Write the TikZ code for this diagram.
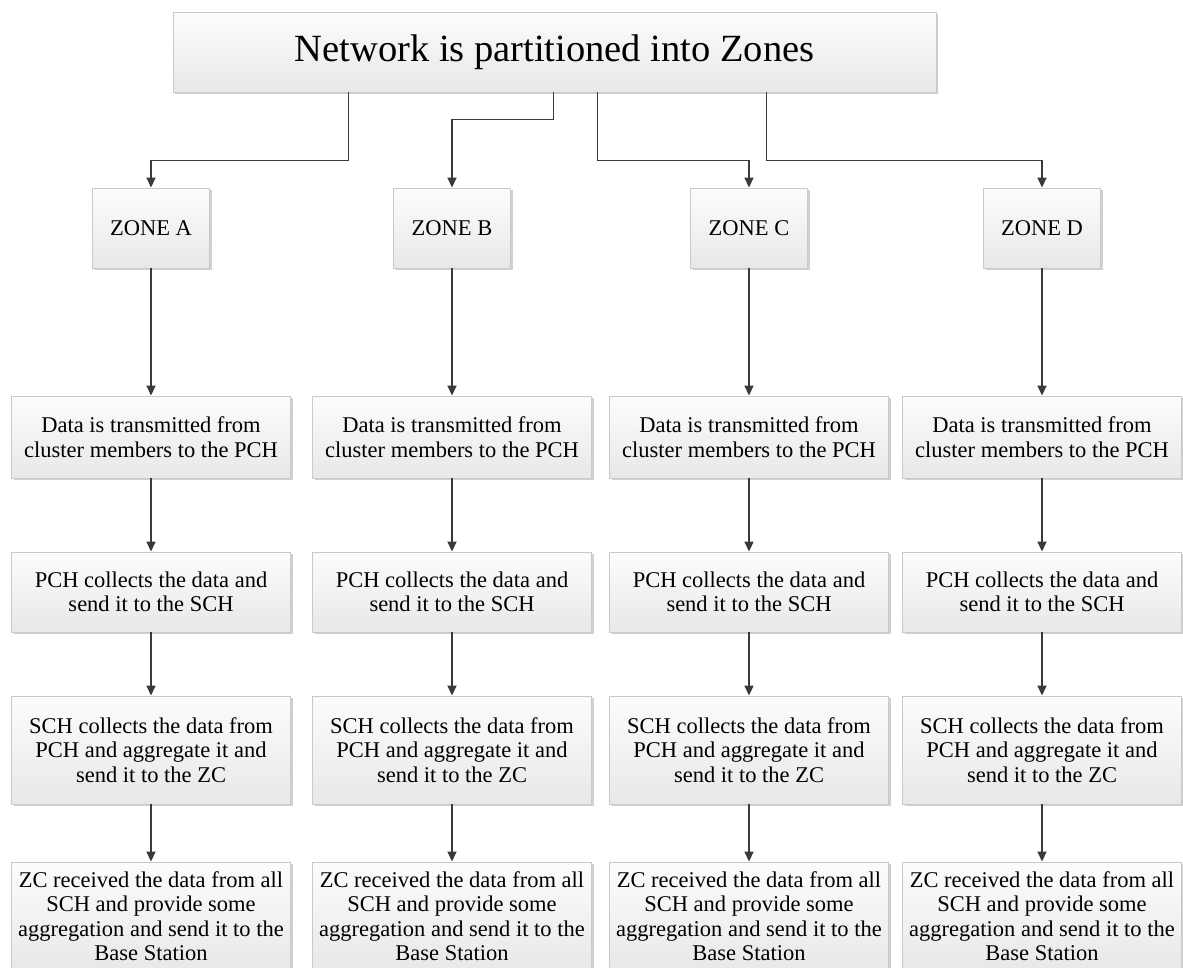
\documentclass[tikz,border=0pt]{standalone}
\usepackage{fontspec}
\setmainfont{Liberation Serif}
\usetikzlibrary{arrows.meta,shadows}
\definecolor{linegray}{HTML}{3A3A3A}
\definecolor{boxedge}{HTML}{C9C9C9}
\definecolor{boxtop}{HTML}{FCFCFC}
\definecolor{boxbot}{HTML}{E8E8E8}
\definecolor{shadowgray}{HTML}{BDBDBD}
\begin{document}
\begin{tikzpicture}[x=1pt,y=-1pt,
  flowbox/.style={draw=boxedge, line width=0.9pt, top color=boxtop, bottom color=boxbot,
    align=center, inner sep=0pt, text=black,
    font=\fontsize{22.5}{24.5}\selectfont,
    drop shadow={shadow xshift=2pt, shadow yshift=-2pt, fill=shadowgray, opacity=0.7}},
  titlebox/.style={flowbox, minimum width=763pt, minimum height=80pt,
    font=\fontsize{38.5}{44}\selectfont},
  zonebox/.style={flowbox, minimum width=117pt, minimum height=80pt},
  stagebox/.style={flowbox, minimum width=279pt},
  conn/.style={draw=linegray, line width=1.6pt,
    -{Triangle[length=10pt,width=9pt]}}]
% page frame
\useasboundingbox (0,0) rectangle (1183,967);

% overall partitioning
\node[titlebox] (top) at (554.5,52) {\raisebox{-3pt}{Network is partitioned into Zones}};

% one column of processing stages per zone
\foreach \c/\x in {A/151,B/452,C/749,D/1042} {
  \node[zonebox] (z\c) at (\x,228) {ZONE \c};
  \node[stagebox, minimum height=82pt] (d\c) at (\x,437)
    {Data is transmitted from\\cluster members to the PCH};
  \node[stagebox, minimum height=80pt] (p\c) at (\x,592)
    {PCH collects the data and\\send it to the SCH};
  \node[stagebox, minimum height=108pt] (s\c) at (\x,750)
    {SCH collects the data from\\PCH and aggregate it and\\send it to the ZC};
  \node[stagebox, minimum height=108pt] (r\c) at (\x,916)
    {ZC received the data from all\\SCH and provide some\\aggregation and send it to the\\Base Station};
  \draw[conn] (z\c) -- (d\c);
  \draw[conn] (d\c) -- (p\c);
  \draw[conn] (p\c) -- (s\c);
  \draw[conn] (s\c) -- (r\c);
}

% branches from the title box to the zones
\draw[conn] ([xshift=176pt]top.south west) -- ++(0,68) -| (zA.north);
\draw[conn] ([xshift=381pt]top.south west) -- ++(0,27) -| (zB.north);
\draw[conn] ([xshift=425pt]top.south west) -- ++(0,68) -| (zC.north);
\draw[conn] ([xshift=594pt]top.south west) -- ++(0,68) -| (zD.north);
\end{tikzpicture}
\end{document}
